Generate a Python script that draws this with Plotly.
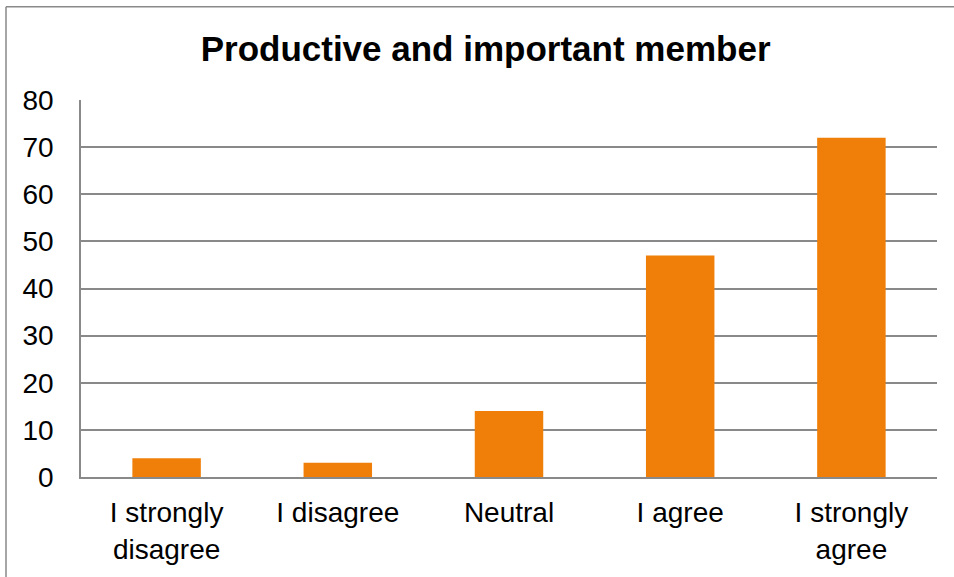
import plotly.graph_objects as go

categories = ["I strongly<br>disagree", "I disagree", "Neutral", "I agree", "I strongly<br>agree"]
values = [4, 3, 14, 47, 72]
y_ticks = [0, 10, 20, 30, 40, 50, 60, 70, 80]

fig = go.Figure(go.Bar(x=categories, y=values, marker=dict(color="#F07F09", line=dict(width=0)), width=0.4))

font_family = "Liberation Sans, Arial, sans-serif"
fig.update_layout(
    width=954, height=577,
    margin=dict(l=81, r=17, t=100, b=97),
    paper_bgcolor="white", plot_bgcolor="white",
    showlegend=False,
    font=dict(family=font_family, size=28, color="black"),
    title=dict(text="<b>Productive and important member</b>", x=0.509, xanchor="center",
               y=0.915, yanchor="middle", yref="container",
               font=dict(family=font_family, size=35, color="black")),
    xaxis=dict(showgrid=False, showline=True, linecolor="#898989", linewidth=1.5,
               ticks="", tickfont=dict(size=28), ticklabelstandoff=10),
    yaxis=dict(range=[0, 80], tickvals=y_ticks, showgrid=True, gridcolor="#898989", gridwidth=1.5,
               showline=True, linecolor="#898989", linewidth=1.5, ticks="",
               zeroline=False, tickfont=dict(size=28), ticklabelstandoff=20),
    shapes=[
        dict(type="line", xref="paper", yref="paper", x0=(6-81)/856, x1=(1000-81)/856,
             y0=(480-6)/380, y1=(480-6)/380, line=dict(color="#898989", width=1.5)),
        dict(type="line", xref="paper", yref="paper", x0=(6-81)/856, x1=(6-81)/856,
             y0=(480-6)/380, y1=(480-640)/380, line=dict(color="#898989", width=1.5)),
    ],
)

fig.write_html("out.html", config={"displayModeBar": False},
               post_script="document.body.style.margin='0';")
